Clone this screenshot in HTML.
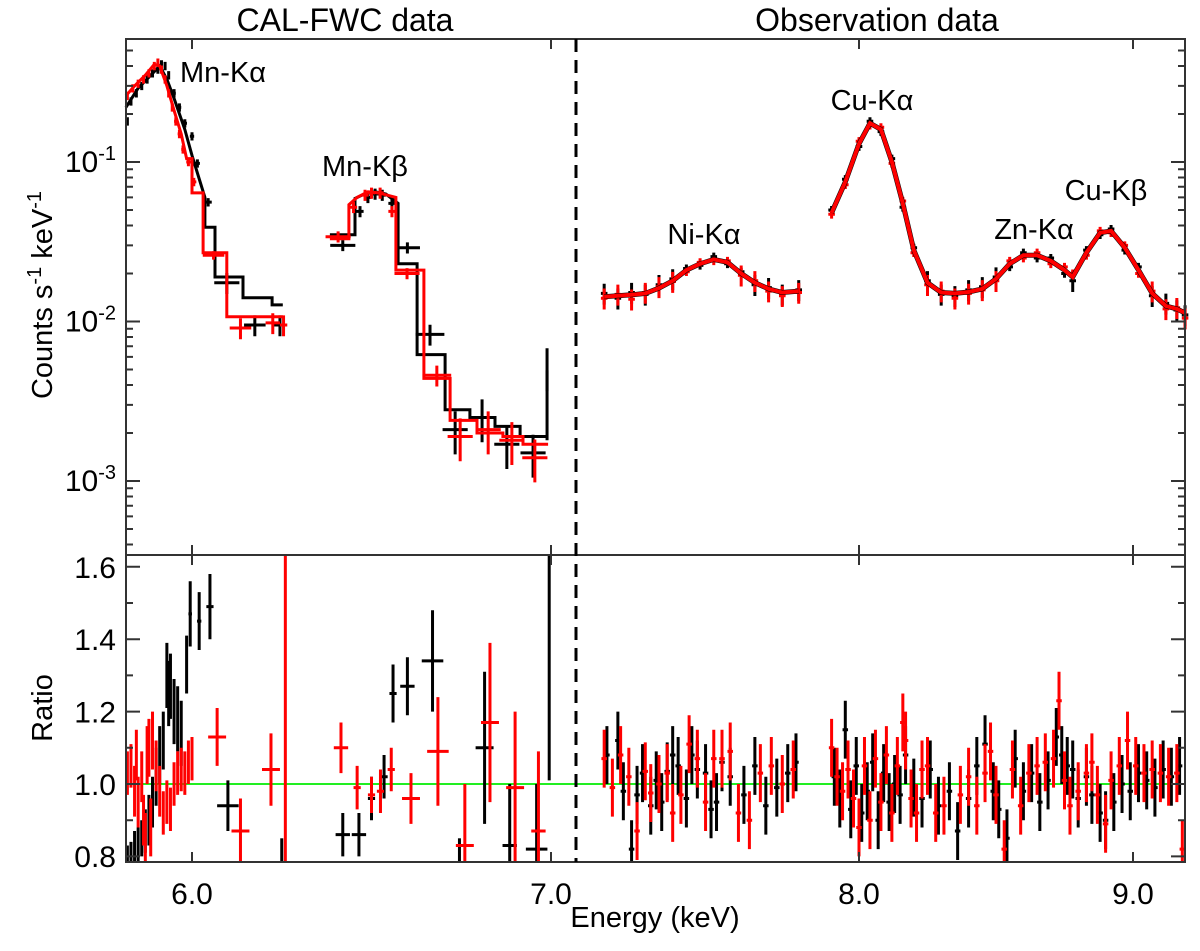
<!DOCTYPE html>
<html><head><meta charset="utf-8"><style>
html,body{margin:0;padding:0;background:#fff;}
svg{display:block;font-family:"Liberation Sans",Arial,sans-serif;}
</style></head><body>
<svg id="chart" width="1200" height="951" viewBox="0 0 1200 951" xmlns="http://www.w3.org/2000/svg">
<g id="layer"></g>
<text x="345" y="31" font-size="32" text-anchor="middle">CAL-FWC data</text>
<text x="877" y="31" font-size="32" text-anchor="middle">Observation data</text>
<text transform="translate(52,295) rotate(-90)" font-size="29" text-anchor="middle">Counts s<tspan dy="-11" font-size="20">-1</tspan><tspan dy="11"> keV</tspan><tspan dy="-11" font-size="20">-1</tspan></text>
<text transform="translate(52,708) rotate(-90)" font-size="29" text-anchor="middle">Ratio</text>
<text x="655" y="927" font-size="29" text-anchor="middle">Energy (keV)</text>
<text x="180" y="82" font-size="29">Mn-Kα</text>
<text x="322" y="176" font-size="29">Mn-Kβ</text>
<text x="704" y="244" font-size="29" text-anchor="middle">Ni-Kα</text>
<text x="872" y="110" font-size="29" text-anchor="middle">Cu-Kα</text>
<text x="1034" y="239" font-size="29" text-anchor="middle">Zn-Kα</text>
<text x="1106" y="200" font-size="29" text-anchor="middle">Cu-Kβ</text>
</svg>
<script>
// ---- data: top panel, CAL-FWC (left axis scale) ----
const calBlackE = [5.82,5.83,5.845,5.86,5.875,5.89,5.905,5.915,5.925,5.935,5.95,5.965,5.98,6.0,6.015,6.045,6.097,6.175,6.245];
const calBlackV = [0.18,0.24,0.27,0.30,0.33,0.36,0.38,0.41,0.40,0.35,0.27,0.22,0.175,0.145,0.098,0.056,0.0175,0.0095,0.0095];
const calBlackXe = [0.004,0.004,0.004,0.004,0.004,0.004,0.004,0.004,0.004,0.004,0.005,0.005,0.006,0.006,0.007,0.01,0.035,0.03,0.02];
const calRedE = [5.82,5.835,5.85,5.865,5.88,5.895,5.905,5.915,5.925,5.935,5.945,5.955,5.965,5.975,5.99,6.005,6.06,6.135,6.225,6.255];
const calRedV = [0.26,0.29,0.31,0.33,0.36,0.40,0.42,0.38,0.33,0.27,0.22,0.18,0.15,0.12,0.10,0.075,0.026,0.0091,0.0098,0.0095];
const calRedXe = [0.004,0.004,0.004,0.004,0.004,0.004,0.004,0.004,0.004,0.004,0.004,0.005,0.005,0.005,0.006,0.007,0.03,0.03,0.02,0.01];
const kbBlackE = [6.42,6.468,6.49,6.51,6.53,6.557,6.60,6.663,6.733,6.808,6.877,6.95,6.989];
const kbBlackV = [0.030,0.049,0.060,0.063,0.062,0.055,0.029,0.0083,0.0021,0.0025,0.0017,0.0015,0.0043];
const kbBlackXe = [0.035,0.01,0.01,0.01,0.01,0.01,0.035,0.04,0.035,0.035,0.035,0.035,0.004];
const kbRedE = [6.407,6.45,6.482,6.50,6.524,6.557,6.599,6.682,6.747,6.825,6.891,6.955];
const kbRedV = [0.034,0.052,0.062,0.064,0.064,0.049,0.020,0.0046,0.0019,0.0021,0.0018,0.0014];
const kbRedXe = [0.035,0.01,0.01,0.01,0.01,0.01,0.035,0.04,0.035,0.035,0.035,0.035];
const calBlackModelE = [5.816,5.85,5.88,5.91,5.93,5.95,5.98,6.0,6.036,6.036,6.064,6.064,6.142,6.142,6.223,6.223,6.253];
const calBlackModelV = [0.22,0.29,0.34,0.40,0.33,0.25,0.16,0.11,0.06,0.039,0.039,0.019,0.019,0.0141,0.0141,0.0127,0.0127];
const calRedModelE = [5.816,5.84,5.87,5.895,5.91,5.93,5.95,5.97,5.985,6.0,6.0,6.031,6.031,6.097,6.097,6.253];
const calRedModelV = [0.26,0.30,0.35,0.41,0.40,0.30,0.21,0.15,0.105,0.105,0.064,0.064,0.027,0.027,0.0107,0.0107];
const kbBlackModelE = [6.384,6.454,6.454,6.48,6.51,6.54,6.574,6.574,6.627,6.627,6.705,6.705,6.774,6.774,6.844,6.844,6.914,6.914,6.989];
const kbBlackModelV = [0.035,0.035,0.059,0.063,0.065,0.063,0.055,0.023,0.023,0.0062,0.0062,0.0028,0.0028,0.0025,0.0025,0.0022,0.0022,0.0019,0.0019];
const kbRedModelE = [6.384,6.437,6.437,6.46,6.49,6.52,6.568,6.568,6.646,6.646,6.719,6.719,6.794,6.794,6.866,6.866,6.922,6.922,6.992];
const kbRedModelV = [0.033,0.033,0.054,0.060,0.065,0.064,0.060,0.021,0.021,0.0044,0.0044,0.0024,0.0024,0.0020,0.0020,0.0019,0.0019,0.0017,0.0017];
// ---- data: top panel, observation (right axis scale) ----
const niE = [7.07,7.12,7.17,7.22,7.27,7.32,7.37,7.42,7.47,7.52,7.57,7.62,7.67,7.72,7.78];
const niModel = [0.0143,0.0145,0.0147,0.0150,0.0162,0.0180,0.0210,0.0230,0.0245,0.0235,0.0200,0.0175,0.0160,0.0152,0.0155];
const niBlack = [0.0150,0.0140,0.0152,0.0148,0.0170,0.0185,0.0215,0.0225,0.0255,0.0230,0.0205,0.0170,0.0163,0.0148,0.0158];
const niRed = [0.0140,0.0148,0.0138,0.0152,0.0165,0.0178,0.0205,0.0235,0.0240,0.0240,0.0195,0.0180,0.0155,0.0145,0.0152];
const cuE = [7.90,7.95,8.00,8.04,8.08,8.12,8.16,8.20,8.25,8.30,8.35,8.40,8.45,8.50,8.55,8.60,8.65,8.70,8.75,8.78,8.83,8.88,8.92,8.97,9.02,9.07,9.12,9.16,9.19];
const cuModel = [0.048,0.075,0.13,0.175,0.16,0.10,0.055,0.028,0.0175,0.0152,0.015,0.0153,0.016,0.0185,0.023,0.026,0.026,0.024,0.021,0.019,0.027,0.036,0.037,0.029,0.021,0.015,0.0125,0.012,0.0113];
const cuBlack = [0.050,0.078,0.125,0.180,0.155,0.105,0.052,0.029,0.018,0.0148,0.0145,0.0158,0.0165,0.019,0.022,0.027,0.025,0.025,0.020,0.018,0.028,0.035,0.038,0.028,0.022,0.0145,0.013,0.0118,0.0110];
const cuRed = [0.047,0.072,0.135,0.170,0.165,0.098,0.057,0.027,0.017,0.0155,0.0140,0.0150,0.0158,0.018,0.024,0.025,0.027,0.023,0.022,0.020,0.026,0.037,0.036,0.030,0.020,0.0155,0.012,0.0122,0.0105];
// ---- data: ratio panel ----
const rCalBlackE = [5.82,5.83,5.84,5.85,5.86,5.87,5.88,5.89,5.90,5.91,5.92,5.93,5.935,5.94,5.95,5.96,5.97,5.985,5.995,6.02,6.05,6.10,6.25,6.42,6.465,6.50,6.535,6.56,6.60,6.67,6.745,6.815,6.885,6.96,6.995];
const rCalBlack = [0.79,0.80,0.82,0.83,0.85,0.87,0.90,0.95,1.02,1.08,1.12,1.30,1.25,1.27,1.20,1.18,1.14,1.33,1.47,1.45,1.49,0.94,0.70,0.86,0.86,0.96,1.02,1.25,1.27,1.34,0.70,1.10,0.83,0.82,1.33];
const rCalBlackXe = [0.003,0.003,0.003,0.003,0.003,0.003,0.003,0.003,0.003,0.003,0.003,0.003,0.003,0.003,0.003,0.003,0.003,0.004,0.005,0.006,0.01,0.03,0.005,0.02,0.02,0.01,0.01,0.01,0.02,0.03,0.005,0.025,0.02,0.03,0.004];
const rCalBlackYe = [0.04,0.04,0.05,0.05,0.05,0.06,0.07,0.07,0.08,0.08,0.08,0.09,0.09,0.09,0.09,0.09,0.09,0.08,0.09,0.08,0.09,0.07,0.15,0.06,0.06,0.06,0.06,0.08,0.08,0.14,0.15,0.21,0.17,0.18,0.32];
const rCalRedE = [5.82,5.83,5.84,5.845,5.85,5.86,5.865,5.87,5.875,5.88,5.885,5.89,5.90,5.91,5.92,5.93,5.94,5.95,5.96,5.97,5.98,5.99,6.0,6.07,6.135,6.22,6.26,6.415,6.46,6.50,6.525,6.555,6.61,6.685,6.76,6.83,6.90,6.965];
const rCalRed = [1.03,1.05,0.98,1.08,0.95,1.02,0.90,0.85,1.08,1.10,0.88,1.12,1.05,0.98,0.92,0.95,0.93,1.00,1.03,1.04,1.03,1.06,1.07,1.13,0.87,1.04,1.21,1.10,0.99,0.97,0.98,1.04,0.96,1.09,0.83,1.17,0.99,0.87];
const rCalRedXe = [0.003,0.003,0.003,0.003,0.003,0.003,0.003,0.003,0.003,0.003,0.003,0.003,0.003,0.003,0.003,0.003,0.003,0.003,0.003,0.003,0.003,0.004,0.004,0.025,0.025,0.025,0.004,0.02,0.01,0.01,0.01,0.01,0.025,0.03,0.025,0.025,0.025,0.02];
const rCalRedYe = [0.06,0.06,0.07,0.07,0.07,0.07,0.07,0.07,0.08,0.08,0.08,0.08,0.07,0.07,0.06,0.06,0.06,0.06,0.06,0.06,0.06,0.06,0.06,0.08,0.09,0.10,0.43,0.07,0.06,0.05,0.06,0.06,0.07,0.15,0.17,0.22,0.21,0.22];
const rObsBlackE = [7.08,7.12,7.14,7.17,7.19,7.21,7.24,7.26,7.28,7.30,7.32,7.34,7.37,7.39,7.41,7.44,7.46,7.48,7.50,7.53,7.58,7.62,7.66,7.70,7.74,7.77,7.91,7.93,7.95,7.97,7.99,8.01,8.03,8.05,8.07,8.09,8.11,8.13,8.15,8.17,8.20,8.23,8.26,8.29,8.33,8.36,8.40,8.43,8.46,8.49,8.51,8.54,8.57,8.60,8.63,8.66,8.69,8.72,8.74,8.76,8.78,8.80,8.83,8.85,8.88,8.90,8.93,8.96,8.99,9.02,9.05,9.08,9.11,9.14,9.17];
const rObsBlack = [1.08,1.12,0.98,0.82,0.97,1.03,0.94,1.01,0.95,1.035,1.08,1.05,0.96,1.08,1.04,1.03,0.93,0.95,1.06,1.02,0.97,1.05,0.94,0.99,1.03,1.06,1.02,0.96,1.15,0.93,1.05,0.92,0.98,1.06,0.90,1.03,0.95,1.00,0.97,1.08,0.99,0.96,1.04,0.94,0.98,0.87,0.96,1.05,1.11,0.98,0.93,0.85,1.07,0.98,1.03,0.95,1.01,1.13,1.08,1.05,1.04,0.96,1.02,0.97,0.92,0.90,0.95,1.00,0.98,1.03,1.01,0.99,1.04,1.02,1.05];
const rObsRedE = [7.07,7.10,7.13,7.16,7.19,7.22,7.24,7.27,7.30,7.32,7.35,7.38,7.41,7.44,7.47,7.50,7.53,7.56,7.60,7.64,7.68,7.72,7.76,7.90,7.92,7.94,7.96,7.98,8.00,8.02,8.04,8.06,8.08,8.10,8.12,8.14,8.16,8.17,8.19,8.21,8.23,8.25,8.28,8.31,8.37,8.40,8.43,8.46,8.48,8.50,8.53,8.56,8.59,8.62,8.65,8.68,8.71,8.73,8.75,8.77,8.80,8.83,8.85,8.87,8.90,8.92,8.95,8.98,9.01,9.04,9.07,9.10,9.13,9.16,9.18];
const rObsRed = [1.07,0.99,1.08,1.02,0.87,1.035,0.975,1.0,1.03,0.92,0.97,1.11,1.07,0.95,1.07,1.07,1.09,0.92,0.90,1.03,1.05,1.0,1.04,1.10,1.02,0.98,1.04,0.96,0.88,1.05,0.90,1.07,0.95,1.08,0.92,1.05,1.17,1.12,0.96,0.92,1.04,1.05,0.92,0.94,0.97,1.02,0.94,1.03,1.09,0.97,0.82,1.04,0.94,1.03,1.05,1.06,1.07,1.23,1.01,0.94,0.98,1.03,1.06,0.97,0.89,1.01,1.05,1.12,1.05,1.03,1.04,1.03,1.02,1.03,0.82];
// ---- tick labels ----
const xTicksLeft = [6.0, 7.0];
const xTicksRight = [8.0, 9.0];
const logMajors = [-1, -2, -3];
const ratioTicks = [0.8, 1.0, 1.2, 1.4, 1.6];

const NS = "http://www.w3.org/2000/svg";
const layer = document.getElementById('layer');
const L = 126, R = 1185, T = 39, MID = 555, B = 862, DASH = 576;
const SW = 3;
function xL(e){ return 192 + (e - 6) * 359; }
function xR(e){ return 859 + (e - 8) * 274; }
function yT(v){ return 162 - (Math.log10(v) + 1) * 159.5; }
function yB(r){ return 784 - (r - 1) * 362; }
function mk(tag, attrs){ const el = document.createElementNS(NS, tag); for (const k in attrs) el.setAttribute(k, attrs[k]); layer.appendChild(el); return el; }
function clipY(y, top, bot){ return Math.max(top, Math.min(bot, y)); }

function crossTop(xf, E, V, XE, yfrac, color, name){
  for (let i = 0; i < E.length; i++){
    const xe = XE ? XE[i] : 0.012;
    const cx = xf(E[i]), cy = yT(V[i]);
    const x1 = xf(E[i] - xe), x2 = xf(E[i] + xe);
    const f = V[i] < 0.003 ? 0.3 : (V[i] < 0.02 ? 0.15 : yfrac);
    const y1 = clipY(yT(V[i] * (1 + f)), T, MID), y2 = clipY(yT(V[i] * (1 - f)), T, MID);
    const g = mk('path', {d:`M${x1},${cy}H${x2}M${cx},${y1}V${y2}`, stroke:color, 'stroke-width':SW, fill:'none'});
    
    
  }
}
function modelLine(xf, E, V, color, name, w){
  const d = E.map((e, i) => (i ? 'L' : 'M') + xf(e).toFixed(1) + ',' + yT(V[i]).toFixed(1)).join('');
  const p = mk('path', {d:d, stroke:color, 'stroke-width':w || SW, fill:'none'});
  
  
}
crossTop(xL, calBlackE, calBlackV, calBlackXe, 0.06, '#000', 'cal-black-data');
crossTop(xL, kbBlackE, kbBlackV, kbBlackXe, 0.08, '#000', 'kb-black-data');
modelLine(xL, calBlackModelE, calBlackModelV, '#000', 'cal-black-model');
modelLine(xL, kbBlackModelE, kbBlackModelV, '#000', 'kb-black-model');
crossTop(xR, niE, niBlack, null, 0.06, '#000', 'ni-black-data');
crossTop(xR, cuE, cuBlack, null, 0.06, '#000', 'cu-black-data');
crossTop(xL, calRedE, calRedV, calRedXe, 0.06, '#f00', 'cal-red-data');
crossTop(xL, kbRedE, kbRedV, kbRedXe, 0.08, '#f00', 'kb-red-data');
modelLine(xL, calRedModelE, calRedModelV, '#f00', 'cal-red-model');
modelLine(xL, kbRedModelE, kbRedModelV, '#f00', 'kb-red-model');
crossTop(xR, niE, niRed, null, 0.06, '#f00', 'ni-red-data');
crossTop(xR, cuE, cuRed, null, 0.06, '#f00', 'cu-red-data');
modelLine(xR, niE, niModel, '#000', 'ni-black-model', 5);
modelLine(xR, cuE, cuModel, '#000', 'cu-black-model', 5);
modelLine(xR, niE, niModel, '#f00', 'ni-red-model', 4);
modelLine(xR, cuE, cuModel, '#f00', 'cu-red-model', 4);

// tall black bar at 6.99 keV in top panel
const tb = mk('path', {d:`M${xL(6.989)},${yT(0.0068)}V${yT(0.0018)}`, stroke:'#000', 'stroke-width':SW});



// ratio panel
const green = mk('line', {x1:L, x2:R, y1:yB(1), y2:yB(1), stroke:'#22ee22', 'stroke-width':2});


function crossRatio(xf, E, Rv, XE, YE, color, name){
  for (let i = 0; i < E.length; i++){
    const xe = XE ? XE[i] : 0.01, ye = YE ? YE[i] : 0.08;
    const cx = xf(E[i]), cy = yB(Rv[i]);
    const y1 = clipY(yB(Rv[i] + ye), MID, B), y2 = clipY(yB(Rv[i] - ye), MID, B);
    let d = `M${cx},${y1}V${y2}`;
    if (cy > MID && cy < B) d += `M${xf(E[i] - xe)},${cy}H${xf(E[i] + xe)}`;
    const g = mk('path', {d:d, stroke:color, 'stroke-width':SW, fill:'none'});
    
    
  }
}
crossRatio(xL, rCalBlackE, rCalBlack, rCalBlackXe, rCalBlackYe, '#000', 'ratio-cal-black');
crossRatio(xR, rObsBlackE, rObsBlack, null, null, '#000', 'ratio-obs-black');
crossRatio(xL, rCalRedE, rCalRed, rCalRedXe, rCalRedYe, '#f00', 'ratio-cal-red');
crossRatio(xR, rObsRedE, rObsRed, null, null, '#f00', 'ratio-obs-red');

function frame(y1, y2, name){
  const r = mk('rect', {x:L, y:y1, width:R - L, height:y2 - y1, fill:'none', stroke:'#333', 'stroke-width':2});
  
  
}
frame(T, MID, 'top-panel-frame');
frame(MID, B, 'ratio-panel-frame');
const dl = mk('line', {x1:DASH, x2:DASH, y1:T, y2:B, stroke:'#000', 'stroke-width':3, 'stroke-dasharray':'13 8'});



function tick(d){ mk('path', {d:d, stroke:'#333', 'stroke-width':2}); }
function label(x, y, txt, name, anchor){
  const t = mk('text', {x:x, y:y, 'font-size':30, 'text-anchor':anchor || 'middle'});
  t.textContent = txt;
  
  
  return t;
}
xTicksLeft.forEach(e => { const x = xL(e); tick(`M${x},${T}v10M${x},${MID}v-10M${x},${MID}v10M${x},${B}v-10`); label(x, 904, e.toFixed(1), 'x-tick-label'); });
xTicksRight.forEach(e => { const x = xR(e); tick(`M${x},${T}v10M${x},${MID}v-10M${x},${MID}v10M${x},${B}v-10`); label(x, 904, e.toFixed(1), 'x-tick-label'); });
for (let k = -4; k <= 0; k++){
  for (let m = 1; m <= 9; m++){
    const v = m * Math.pow(10, k), y = yT(v);
    if (y < T || y > MID) continue;
    const len = m === 1 ? 14 : 7;
    tick(`M${L},${y}h${len}M${R},${y}h${-len}`);
  }
}
logMajors.forEach(p => {
  const t = label(116, yT(Math.pow(10, p)) + 10, '', 'y-tick-label', 'end');
  const a = document.createElementNS(NS, 'tspan'); a.textContent = '10'; t.appendChild(a);
  const b = document.createElementNS(NS, 'tspan'); b.setAttribute('dy', '-12'); b.setAttribute('font-size', '20'); b.textContent = String(p); t.appendChild(b);
});
for (let r = 0.8; r <= 1.61; r += 0.1){
  const y = yB(r), major = Math.round(r * 10) % 2 === 0, len = major ? 14 : 7;
  if (y < MID || y > B) continue;
  tick(`M${L},${y}h${len}M${R},${y}h${-len}`);
}
ratioTicks.forEach(r => label(116, Math.min(yB(r), 856) + 11, r.toFixed(1), 'ratio-tick-label', 'end'));
</script>
</body></html>
